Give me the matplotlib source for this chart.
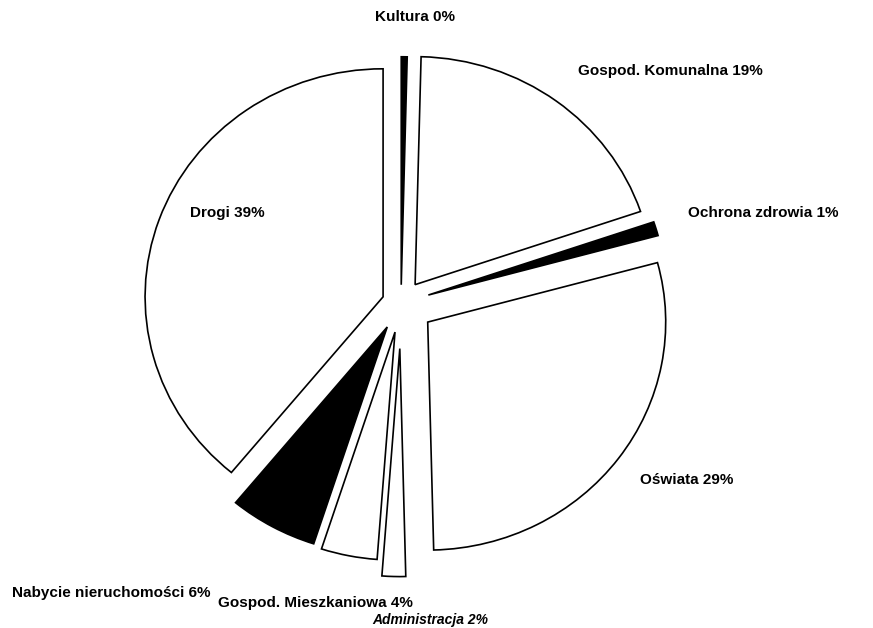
import matplotlib.pyplot as plt
import numpy as np

# wydatki inwestycyjne - udzial procentowy
labels = ['Kultura', 'Gospod. Komunalna', 'Ochrona zdrowia', 'Oświata',
          'Administracja', 'Gospod. Mieszkaniowa', 'Nabycie nieruchomości', 'Drogi']
shares = [0.4, 19.4, 1.0, 28.8, 1.6, 3.8, 6.0, 39.0]
shown = ['0%', '19%', '1%', '29%', '2%', '4%', '6%', '39%']
colors = ['black', 'white', 'black', 'white', 'white', 'white', 'black', 'white']
explode = [0.08, 0.1, 0.12, 0.14, 0.2, 0.13, 0.12, 0.08]

fig = plt.figure(figsize=(8.73, 6.28), dpi=100)
ax = fig.add_axes([0, 0, 1, 1])
ax.pie(shares, colors=colors, explode=explode, startangle=90, counterclock=False,
       wedgeprops=dict(edgecolor='black', linewidth=1.2))
ax.set_aspect('auto')
# srodek ok. (401, 303) px, promien 238 x 228 px
ax.set_xlim(-401 / 238, 472 / 238)
ax.set_ylim(-325 / 228, 303 / 228)
ax.axis('off')

# etykiety w pikselach (od lewej, od gory)
pos = [(415, 17, 'center'), (578, 71, 'left'), (688, 213, 'left'), (640, 480, 'left'),
       (372, 620, 'left'), (218, 603, 'left'), (12, 593, 'left'), (190, 213, 'left')]
for lab, pct, (px, py, ha) in zip(labels, shown, pos):
    style = 'italic' if lab == 'Administracja' else 'normal'
    size = 10 if lab == 'Administracja' else 11
    fig.text(px / 873, 1 - py / 628, f'{lab} {pct}', ha=ha, va='center',
             fontsize=size, fontstyle=style, fontweight='bold', family='Liberation Sans')

fig.savefig('out.png', dpi=100)
